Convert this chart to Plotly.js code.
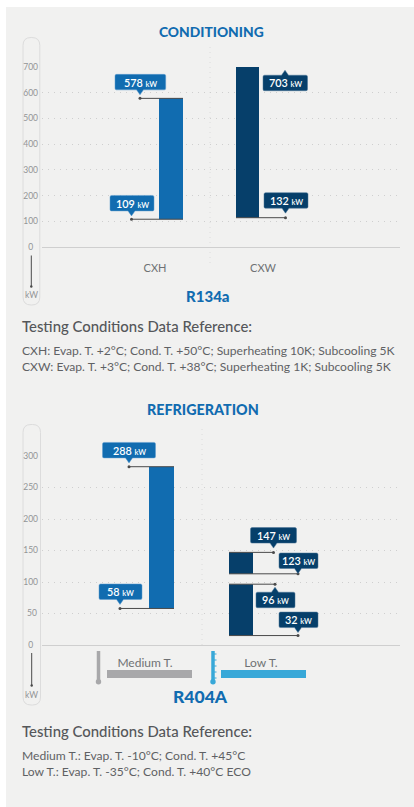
<!DOCTYPE html>
<html><head><meta charset="utf-8">
<script src="https://cdn.plot.ly/plotly-3.0.1.min.js"></script>
<style>html,body{margin:0;padding:0;background:#fff}#c{width:414px;height:807px}</style>
</head><body><div id="c"></div>
<script>
// ---- data ----
const condCategories = ['CXH', 'CXW'];
const condTop = [578, 703];
const condBottom = [108, 114];
const condTickVals = [0, 100, 200, 300, 400, 500, 600, 700];
const condTagLabels = ['578', '109', '703', '132'];
const condTagLevels = [578, 108, 705, 114];

const refrCategories = ['Medium T.', 'Low T.'];
const refrMediumTop = [283];
const refrMediumBottom = [58];
const refrLowTop = [147, 96.5];
const refrLowBottom = [113, 15];
const refrTickVals = [0, 50, 100, 150, 200, 250, 300];
const refrTagLabels = ['288', '58', '147', '123', '96', '32'];
const refrTagLevels = [283, 58, 147, 113, 96.5, 15];

const condNotes = ['CXH: Evap. T. +2°C; Cond. T. +50°C; Superheating 10K; Subcooling 5K',
                   'CXW: Evap. T. +3°C; Cond. T. +38°C; Superheating 1K; Subcooling 5K'];
const refrNotes = ['Medium T.: Evap. T. -10°C; Cond. T. +45°C',
                   'Low T.: Evap. T. -35°C; Cond. T. +40°C ECO'];

// ---- styling ----
const W = 414, H = 807;
const BLUE = '#116cb0', DARK = '#063f6a', BG = '#f1f1f0', INK = '#5f6164', TICK = '#929496', LINE = '#4a4a4a';
const FONT = 'Lato, "Open Sans", sans-serif';
const px = x => x / W, py = y => 1 - y / H;
const cond = {y0: 247, y1: 67, max: 700};
const refr = {y0: 645, y1: 456, max: 300};
const yPx = (a, v) => a.y0 + (a.y1 - a.y0) * v / a.max;
const X0 = 42, X1 = 400;

const traces = [], shapes = [], annotations = [];

function addBars(x, width, top, bottom, color, yaxis) {
  traces.push({type: 'bar', x: x, y: top.map((t, i) => t - bottom[i]), base: bottom,
    width: x.map(() => width), marker: {color: color, line: {width: 0}},
    xaxis: yaxis === 'y' ? 'x' : 'x2', yaxis: yaxis, hoverinfo: 'skip', showlegend: false});
}
addBars([171], 24, [condTop[0]], [condBottom[0]], BLUE, 'y');
addBars([247.5], 23, [condTop[1]], [condBottom[1]], DARK, 'y');
addBars([161.5], 25, refrMediumTop, refrMediumBottom, BLUE, 'y2');
addBars([241, 241], 24, refrLowTop, refrLowBottom, DARK, 'y2');

function roundRect(l, t, r, b, rad) {
  const f = (x, y) => px(x) + ',' + py(y);
  return 'M' + f(l + rad, t) + ' L' + f(r - rad, t) + ' Q' + f(r, t) + ' ' + f(r, t + rad) +
    ' L' + f(r, b - rad) + ' Q' + f(r, b) + ' ' + f(r - rad, b) +
    ' L' + f(l + rad, b) + ' Q' + f(l, b) + ' ' + f(l, b - rad) +
    ' L' + f(l, t + rad) + ' Q' + f(l, t) + ' ' + f(l + rad, t) + ' Z';
}
function tagPath(l, t, r, b, tipX, tipY) {
  const f = (x, y) => px(x) + ',' + py(y), rad = 1.5, w = 3.5;
  const up = tipY < t;
  let d = 'M' + f(l + rad, t) + ' ';
  if (up) d += 'L' + f(tipX - w, t) + ' L' + f(tipX, tipY) + ' L' + f(tipX + w, t) + ' ';
  d += 'L' + f(r - rad, t) + ' Q' + f(r, t) + ' ' + f(r, t + rad) + ' L' + f(r, b - rad) + ' Q' + f(r, b) + ' ' + f(r - rad, b) + ' ';
  if (!up) d += 'L' + f(tipX + w, b) + ' L' + f(tipX, tipY) + ' L' + f(tipX - w, b) + ' ';
  d += 'L' + f(l + rad, b) + ' Q' + f(l, b) + ' ' + f(l, b - rad) + ' L' + f(l, t + rad) + ' Q' + f(l, t) + ' ' + f(l + rad, t) + ' Z';
  return d;
}
function addTag(axis, yaxis, xa, label, level, s) {
  const lv = yPx(axis, level);
  traces.push({type: 'scatter', mode: 'lines', x: [s.tip, s.far], y: [level, level], xaxis: xa, yaxis: yaxis,
    line: {color: LINE, width: 1}, hoverinfo: 'skip', showlegend: false, cliponaxis: false});
  traces.push({type: 'scatter', mode: 'markers', x: [s.tip], y: [level], xaxis: xa, yaxis: yaxis,
    marker: {color: LINE, size: 3}, hoverinfo: 'skip', showlegend: false, cliponaxis: false});
  const h = 15.5;
  const t = s.up ? lv + s.gap : lv - s.gap - h;
  const b = t + h;
  const tipY = s.up ? lv + s.gap - 5 : lv - s.gap + 5;
  shapes.push({type: 'path', xref: 'paper', yref: 'paper', path: tagPath(s.l, t, s.r, b, s.tip, tipY),
    fillcolor: s.color, line: {color: s.color === BLUE ? '#5f9dce' : '#4a7596', width: 0.5}, layer: 'above'});
  annotations.push({xref: 'paper', yref: 'paper', x: px((s.l + s.r) / 2), y: py(t + h / 2), showarrow: false,
    xanchor: 'center', yanchor: 'middle',
    text: label + ' <span style="font-size:7.5px">kW</span>',
    font: {family: FONT, size: 10.8, color: '#ffffff', weight: 600}});
}
const condTagStyle = [
  {tip: 140, far: 183, l: 115, r: 165.7, gap: 8.5, color: BLUE},
  {tip: 131.5, far: 183, l: 110, r: 154, gap: 8.3, color: BLUE},
  {tip: 285, far: 236, l: 263, r: 307.5, gap: 9.5, up: true, color: DARK},
  {tip: 285.5, far: 236, l: 264, r: 308, gap: 9.5, color: DARK}];
const refrTagStyle = [
  {tip: 129, far: 174, l: 102.5, r: 155.5, gap: 8.8, color: BLUE},
  {tip: 120, far: 174, l: 99, r: 142, gap: 9, color: BLUE},
  {tip: 273.5, far: 229, l: 250.5, r: 296.5, gap: 9.3, color: DARK},
  {tip: 298, far: 229, l: 279, r: 318, gap: 5.3, color: DARK},
  {tip: 275, far: 229, l: 256, r: 295, gap: 8, up: true, color: DARK},
  {tip: 298, far: 229, l: 279, r: 318, gap: 8, color: DARK}];
condTagLabels.forEach((l, i) => addTag(cond, 'y', 'x', l, condTagLevels[i], condTagStyle[i]));
refrTagLabels.forEach((l, i) => addTag(refr, 'y2', 'x2', l, refrTagLevels[i], refrTagStyle[i]));

// panel
shapes.unshift({type: 'rect', xref: 'paper', yref: 'paper', x0: px(6), x1: 1, y0: 0, y1: py(7), fillcolor: BG, line: {width: 0}, layer: 'below'});
// unit pills
[[23, 37.5, 39.8, 305], [23, 424.5, 40.5, 705]].forEach(p => shapes.push({type: 'path', xref: 'paper', yref: 'paper',
  path: roundRect(p[0], p[1], p[2], p[3], 8), line: {color: '#dcdcdc', width: 1}, fillcolor: 'rgba(0,0,0,0)', layer: 'below'}));
// section separators
[[210, 47, 264], [202, 429, 645]].forEach(s => shapes.push({type: 'line', xref: 'paper', yref: 'paper',
  x0: px(s[0]), x1: px(s[0]), y0: py(s[1]), y1: py(s[2]), line: {color: '#dcdcdc', width: 1, dash: '1px,4px'}, layer: 'below'}));
// unit arrows
[[31.3, 255.5, 286.5, 295], [31.7, 653, 685.5, 695]].forEach(a => {
  shapes.push({type: 'line', xref: 'paper', yref: 'paper', x0: px(a[0]), x1: px(a[0]), y0: py(a[1]), y1: py(a[2]), line: {color: LINE, width: 1}});
  shapes.push({type: 'circle', xref: 'paper', yref: 'paper', x0: px(a[0] - 1.2), x1: px(a[0] + 1.2), y0: py(a[2] - 1.2), y1: py(a[2] + 1.2), fillcolor: LINE, line: {width: 0}});
  annotations.push({xref: 'paper', yref: 'paper', x: px(a[0]), y: py(a[3]), text: 'kW', showarrow: false, xanchor: 'center', yanchor: 'middle', font: {family: FONT, size: 8.5, color: TICK}});
});
// thermometers + legend bars
function thermo(x, color, ticks) {
  shapes.push({type: 'line', xref: 'paper', yref: 'paper', x0: px(x), x1: px(x), y0: py(651), y1: py(681), line: {color: color, width: 3.5}});
  shapes.push({type: 'circle', xref: 'paper', yref: 'paper', x0: px(x - 2.7), x1: px(x + 2.7), y0: py(679), y1: py(684.4), fillcolor: color, line: {width: 0}});
  if (ticks) for (let y = 654; y <= 678; y += 6) shapes.push({type: 'line', xref: 'paper', yref: 'paper', x0: px(x), x1: px(x + 3.5), y0: py(y), y1: py(y), line: {color: color, width: 1}});
}
thermo(98.5, '#a8a8aa', false);
thermo(213, '#38a8d8', true);
[[107, 192, '#a8a8aa'], [221, 306, '#38a8d8']].forEach(b => shapes.push({type: 'rect', xref: 'paper', yref: 'paper',
  x0: px(b[0]), x1: px(b[1]), y0: py(670), y1: py(678), fillcolor: b[2], line: {width: 0}}));

function text(x, y, t, size, color, anchor, weight) {
  annotations.push({xref: 'paper', yref: 'paper', x: px(x), y: py(y), text: t, showarrow: false,
    xanchor: anchor, yanchor: 'middle', font: {family: FONT, size: size, color: color, weight: weight || 400}});
}
text(211, 31, 'CONDITIONING', 13.8, BLUE, 'center', 900);
text(203, 409, 'REFRIGERATION', 14.3, BLUE, 'center', 900);
text(207.5, 296, 'R134a', 15, BLUE, 'center', 900);
text(200, 696, 'R404A', 17.5, BLUE, 'center', 900);
text(20.2, 326, 'Testing Conditions Data Reference:', 14.9, '#55575a', 'left', 500);
text(20.2, 731, 'Testing Conditions Data Reference:', 14.9, '#55575a', 'left', 500);
condNotes.forEach((n, i) => text(20.2, 350 + 16 * i, n, 12.1, INK, 'left'));
refrNotes.forEach((n, i) => text(20.2, 755 + 16 * i, n, 12.1, INK, 'left'));

function yAxis(a, vals, anchor) {
  return {domain: [py(a.y0), py(a.y1)], range: [0, a.max], anchor: anchor, tickmode: 'array', tickvals: vals,
    ticktext: vals.map(v => v < 10 ? v + '\u2007' : v < 100 ? v + '\u2009' : '' + v),
    showgrid: true, griddash: '1px,5px', gridcolor: '#cfcfcf', gridwidth: 1, zeroline: true, zerolinecolor: '#cfcfcf', zerolinewidth: 1,
    showline: false, ticks: '', ticklabelstandoff: 3, tickfont: {family: FONT, size: 8.5, color: TICK}, fixedrange: true};
}
function xAxis(anchor, ticks, cats, len, size, color) {
  return {domain: [px(X0), px(X1)], range: [X0, X1], anchor: anchor, tickmode: 'array', tickvals: ticks, ticktext: cats,
    showgrid: false, zeroline: false, showline: false, ticks: 'outside', ticklen: len, tickcolor: 'rgba(0,0,0,0)',
    tickfont: {family: FONT, size: size, color: color}, fixedrange: true};
}
const layout = {
  width: W, height: H, margin: {l: 0, r: 0, t: 0, b: 0}, paper_bgcolor: '#ffffff', plot_bgcolor: 'rgba(0,0,0,0)',
  showlegend: false, barmode: 'overlay', shapes: shapes, annotations: annotations,
  xaxis: xAxis('y', [155, 263], condCategories, 11, 11, '#6f7174'),
  xaxis2: xAxis('y2', [145, 261], refrCategories, 7, 12, '#6f7174'),
  yaxis: yAxis(cond, condTickVals, 'x'),
  yaxis2: yAxis(refr, refrTickVals, 'x2')
};
Plotly.newPlot('c', traces, layout, {displayModeBar: false, staticPlot: true});
</script></body></html>
